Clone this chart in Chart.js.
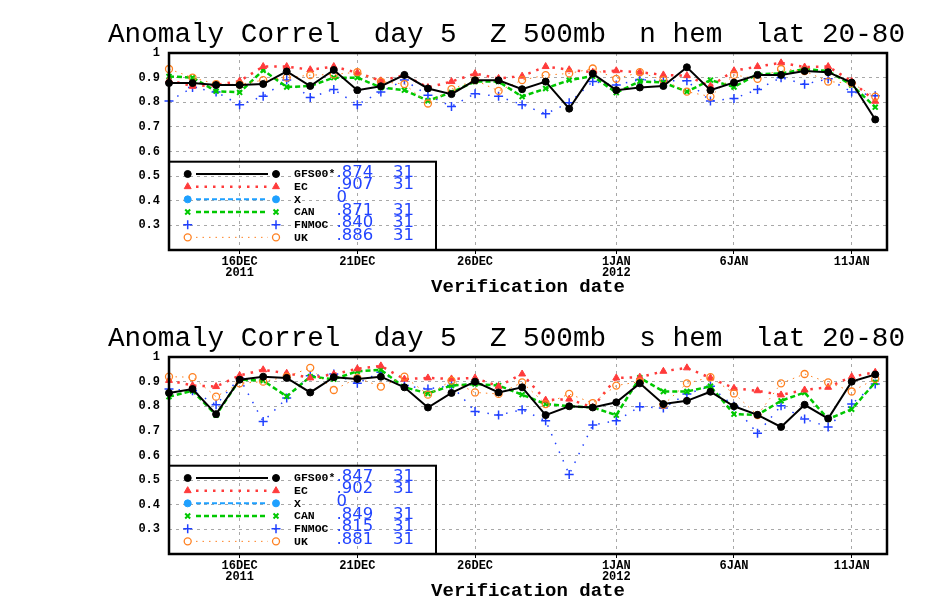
<!DOCTYPE html>
<html>
<head>
<meta charset="utf-8">
<script src="https://cdn.jsdelivr.net/npm/chart.js@4.4.0/dist/chart.umd.min.js"></script>
<style>
  body { margin: 0; background: #fff; }
  canvas { display: block; }
</style>
</head>
<body>
<canvas id="nhem" width="930" height="304"></canvas>
<canvas id="shem" width="930" height="304"></canvas>
<script>
// verification dates, 13 Dec 2011 .. 12 Jan 2012
const dates = ['13DEC','14DEC','15DEC','16DEC','17DEC','18DEC','19DEC','20DEC','21DEC','22DEC',
  '23DEC','24DEC','25DEC','26DEC','27DEC','28DEC','29DEC','30DEC','31DEC','1JAN','2JAN','3JAN',
  '4JAN','5JAN','6JAN','7JAN','8JAN','9JAN','10JAN','11JAN','12JAN'];
const tickDays = [3, 8, 13, 19, 24, 29];
const tickLabels = [['16DEC', '2011'], '21DEC', '26DEC', ['1JAN', '2012'], '6JAN', '11JAN'];
const yTickValues = [0.3, 0.4, 0.5, 0.6, 0.7, 0.8, 0.9, 1.0];
const yTickLabels = ['0.3', '0.4', '0.5', '0.6', '0.7', '0.8', '0.9', '1'];

const models = ['GFS00*', 'EC', 'X', 'CAN', 'FNMOC', 'UK'];

// northern hemisphere
const nhGFS = [0.878,0.878,0.870,0.870,0.874,0.925,0.866,0.931,0.849,0.865,0.911,0.856,0.833,0.889,0.889,0.853,
  0.884,0.774,0.916,0.849,0.860,0.866,0.942,0.849,0.880,0.911,0.911,0.927,0.922,0.880,0.730];
const nhEC = [0.890,0.865,0.870,0.886,0.945,0.945,0.932,0.945,0.920,0.887,0.910,0.860,0.884,0.916,0.897,0.906,
  0.945,0.932,0.922,0.928,0.922,0.911,0.908,0.865,0.928,0.945,0.960,0.943,0.945,0.885,0.804];
const nhX = [];
const nhCAN = [0.905,0.900,0.845,0.840,0.930,0.862,0.866,0.900,0.900,0.860,0.849,0.806,0.840,0.884,0.884,0.823,
  0.856,0.890,0.906,0.839,0.885,0.880,0.843,0.890,0.862,0.914,0.917,0.935,0.927,0.870,0.780];
const nhFNMOC = [0.805,0.860,0.842,0.790,0.824,0.890,0.819,0.852,0.790,0.842,0.890,0.828,0.783,0.835,0.824,0.790,
  0.753,0.798,0.884,0.870,0.892,0.887,0.887,0.805,0.815,0.852,0.900,0.873,0.895,0.842,0.826];
const nhUK = [0.935,0.900,0.874,0.872,0.890,0.900,0.910,0.913,0.922,0.884,0.874,0.795,0.853,0.890,0.846,0.890,
  0.910,0.917,0.937,0.895,0.922,0.890,0.843,0.823,0.911,0.895,0.935,0.927,0.884,0.877,0.823];
const nhMeans = ['.874', '.907', '', '.871', '.840', '.886'];
const nhCounts = [31, 31, 0, 31, 31, 31];

// southern hemisphere
const shGFS = [0.854,0.870,0.768,0.908,0.920,0.915,0.856,0.918,0.911,0.920,0.877,0.795,0.854,0.900,0.856,0.877,
  0.764,0.800,0.795,0.816,0.893,0.809,0.822,0.859,0.800,0.765,0.716,0.806,0.750,0.900,0.929];
const shEC = [0.905,0.884,0.880,0.925,0.948,0.934,0.915,0.930,0.952,0.964,0.910,0.915,0.911,0.915,0.881,0.931,
  0.825,0.829,0.795,0.915,0.918,0.942,0.956,0.915,0.873,0.863,0.846,0.866,0.877,0.920,0.938];
const shX = [];
const shCAN = [0.839,0.863,0.764,0.908,0.904,0.840,0.920,0.910,0.942,0.948,0.877,0.852,0.884,0.890,0.884,0.847,
  0.809,0.800,0.795,0.764,0.916,0.860,0.860,0.881,0.768,0.765,0.822,0.856,0.748,0.788,0.897];
const shFNMOC = [0.870,0.863,0.806,0.915,0.738,0.833,0.924,0.931,0.893,0.938,0.884,0.870,0.884,0.779,0.764,0.786,
  0.741,0.523,0.724,0.741,0.798,0.793,0.850,0.881,0.800,0.690,0.802,0.748,0.716,0.809,0.890];
const shUK = [0.920,0.918,0.839,0.893,0.900,0.920,0.956,0.866,0.915,0.880,0.920,0.847,0.904,0.856,0.850,0.897,
  0.809,0.850,0.813,0.884,0.900,0.806,0.893,0.918,0.852,0.764,0.893,0.931,0.897,0.860,0.911];
const shMeans = ['.847', '.902', '', '.849', '.815', '.881'];
const shCounts = [31, 31, 0, 31, 31, 31];

const styles = {
  'GFS00*': { color: '#000000', width: 2, dash: [], point: 'circle', radius: 3.5, pw: 1, fill: true, order: 0, legendLine: true },
  EC:       { color: '#ff3b3b', width: 2.5, dash: [2.5, 6], point: 'triangle', radius: 4, pw: 1, fill: true, order: 2, legendLine: true },
  X:        { color: '#1ea0ff', width: 2, dash: [5, 3], point: 'circle', radius: 3.5, pw: 1, fill: true, order: 5, legendLine: true },
  CAN:      { color: '#00c800', width: 2.5, dash: [5, 3], point: 'crossRot', radius: 3.5, pw: 2, fill: false, order: 3, legendLine: true },
  FNMOC:    { color: '#2040ff', width: 1.5, dash: [1.5, 8], point: 'cross', radius: 4.5, pw: 1.5, fill: false, order: 4, legendLine: false },
  UK:       { color: '#ff8020', width: 1, dash: [1.5, 5], point: 'circle', radius: 3.5, pw: 1.3, fill: false, order: 1, legendLine: true }
};

const monoBold = '"Liberation Mono", "DejaVu Sans Mono", monospace';

function decorPlugin(titleText, means, counts) {
  return {
    id: 'decor',
    afterDraw(chart) {
      const ctx = chart.ctx;
      const a = chart.chartArea;

      // title, stretched to the width of the original
      ctx.save();
      ctx.font = '27px "Liberation Mono"';
      ctx.fillStyle = '#000';
      const w = ctx.measureText(titleText).width;
      ctx.translate(506.5, 41.7);
      ctx.scale(797 / w, 1);
      ctx.textAlign = 'center';
      ctx.textBaseline = 'alphabetic';
      ctx.fillText(titleText, 0, 0);
      ctx.restore();

      // frame
      ctx.save();
      ctx.strokeStyle = '#000';
      ctx.lineWidth = 2.5;
      ctx.strokeRect(a.left, a.top, a.right - a.left, a.bottom - a.top);
      ctx.restore();

      // x axis title
      ctx.save();
      ctx.font = 'bold 19px ' + monoBold;
      ctx.fillStyle = '#000';
      ctx.textAlign = 'center';
      ctx.textBaseline = 'alphabetic';
      ctx.fillText('Verification date', (a.left + a.right) / 2, 292);
      ctx.restore();

      // legend box
      const L = { left: a.left, top: 161.7, right: 436, bottom: a.bottom };
      ctx.save();
      ctx.strokeStyle = '#000';
      ctx.lineWidth = 2;
      ctx.strokeRect(L.left, L.top, L.right - L.left, L.bottom - L.top);
      chart.data.datasets.forEach((ds, k) => {
        const st = styles[ds.label];
        const y = L.top + 12.3 + 12.67 * k;
        if (st.legendLine) {
          ctx.save();
          ctx.strokeStyle = st.color;
          ctx.lineWidth = st.width;
          ctx.setLineDash(st.dash);
          ctx.beginPath();
          ctx.moveTo(L.left + 27, y);
          ctx.lineTo(L.left + 99, y);
          ctx.stroke();
          ctx.restore();
        }
        [L.left + 18.7, L.left + 107].forEach(px => {
          ctx.save();
          ctx.fillStyle = st.fill ? st.color : 'rgba(0,0,0,0)';
          ctx.strokeStyle = st.color;
          ctx.lineWidth = st.pw;
          Chart.helpers.drawPoint(ctx, { pointStyle: st.point, radius: st.radius, borderWidth: st.pw, rotation: 0 }, px, y);
          ctx.restore();
        });
        ctx.fillStyle = '#000';
        ctx.font = 'bold 11.5px ' + monoBold;
        ctx.textAlign = 'left';
        ctx.textBaseline = 'middle';
        ctx.fillText(ds.label, L.left + 125, y + 0.5);
        ctx.fillStyle = '#2244ff';
        ctx.font = '16.5px "DejaVu Sans"';
        if (counts[k] === 0) {
          ctx.fillText('0', L.left + 167.5, y - 1.5);
        } else {
          ctx.fillText(means[k], L.left + 167.5, y - 1.5);
          ctx.fillText(String(counts[k]), L.left + 224, y - 1.5);
        }
      });
      ctx.restore();
    }
  };
}

function makeChart(id, titleText, series, means, counts) {
  const datasets = models.map((m, k) => {
    const st = styles[m];
    return {
      label: m,
      data: series[k].map((v, i) => ({ x: dates.indexOf(dates[i]), y: v })),
      borderColor: st.color,
      borderWidth: st.width,
      borderDash: st.dash,
      pointStyle: st.point,
      pointRadius: st.radius,
      pointBorderWidth: st.pw,
      pointBorderColor: st.color,
      pointBackgroundColor: st.fill ? st.color : 'rgba(0,0,0,0)',
      tension: 0,
      fill: false,
      clip: false,
      order: st.order
    };
  });

  return new Chart(document.getElementById(id), {
    type: 'line',
    data: { datasets: datasets },
    options: {
      responsive: false,
      animation: false,
      devicePixelRatio: 1,
      layout: { padding: { top: 53, right: 43, left: 0, bottom: 0 } },
      plugins: {
        legend: { display: false },
        title: { display: false },
        tooltip: { enabled: false }
      },
      scales: {
        x: {
          type: 'linear',
          min: 0,
          max: 30.5,
          afterBuildTicks: s => { s.ticks = tickDays.map(v => ({ value: v })); },
          afterFit: s => { s.height = 54; },
          ticks: {
            autoSkip: false,
            maxRotation: 0,
            padding: 2,
            color: '#000',
            font: { family: monoBold, weight: 'bold', size: 12, lineHeight: 0.95 },
            callback: v => tickLabels[tickDays.indexOf(v)]
          },
          grid: { color: '#a8a8a8', lineWidth: 1, tickLength: 4, tickColor: '#000' },
          border: { display: false, dash: [3, 4] }
        },
        y: {
          min: 0.2,
          max: 1.0,
          afterBuildTicks: s => { s.ticks = yTickValues.map(v => ({ value: v })); },
          afterFit: s => { s.width = 169; },
          ticks: {
            padding: 9,
            color: '#000',
            font: { family: monoBold, weight: 'bold', size: 12 },
            callback: (v, i) => yTickLabels[i]
          },
          grid: { color: '#a8a8a8', lineWidth: 1, drawTicks: false },
          border: { display: false, dash: [3, 4] }
        }
      }
    },
    plugins: [decorPlugin(titleText, means, counts)]
  });
}

makeChart('nhem', 'Anomaly Correl  day 5  Z 500mb  n hem  lat 20-80',
  [nhGFS, nhEC, nhX, nhCAN, nhFNMOC, nhUK], nhMeans, nhCounts);
makeChart('shem', 'Anomaly Correl  day 5  Z 500mb  s hem  lat 20-80',
  [shGFS, shEC, shX, shCAN, shFNMOC, shUK], shMeans, shCounts);
</script>
</body>
</html>
